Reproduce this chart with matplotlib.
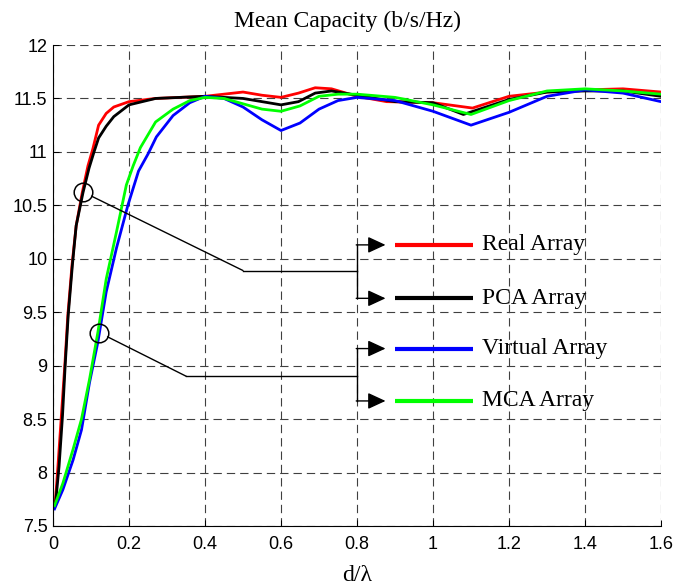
import numpy as np
import matplotlib.pyplot as plt
from matplotlib.ticker import FuncFormatter

# ---- data: mean capacity vs element spacing d/lambda ----
x_real = [0.006, 0.013, 0.022, 0.031, 0.039, 0.050, 0.061, 0.077, 0.092, 0.105,
          0.120, 0.140, 0.160, 0.200, 0.270, 0.400, 0.500, 0.550, 0.600, 0.646,
          0.690, 0.733, 0.800, 0.878, 1.000, 1.104, 1.200, 1.300, 1.400, 1.500, 1.600]
y_real = [7.72, 8.06, 8.53, 9.00, 9.47, 9.94, 10.31, 10.62, 10.87, 11.03,
          11.25, 11.36, 11.42, 11.47, 11.50, 11.52, 11.56, 11.53, 11.51, 11.55,
          11.60, 11.59, 11.52, 11.47, 11.46, 11.41, 11.52, 11.56, 11.58, 11.59, 11.56]

x_pca = [0.007, 0.016, 0.025, 0.032, 0.040, 0.051, 0.061, 0.079, 0.095, 0.108,
         0.120, 0.140, 0.160, 0.200, 0.270, 0.400, 0.500, 0.550, 0.600, 0.646,
         0.690, 0.733, 0.800, 0.900, 1.000, 1.080, 1.200, 1.300, 1.400, 1.500, 1.600]
y_pca = [7.72, 8.06, 8.53, 9.00, 9.47, 9.94, 10.31, 10.62, 10.85, 11.00,
         11.13, 11.24, 11.33, 11.44, 11.50, 11.52, 11.50, 11.47, 11.44, 11.47,
         11.55, 11.57, 11.53, 11.47, 11.46, 11.35, 11.49, 11.56, 11.57, 11.57, 11.52]

x_virtual = [0.004, 0.026, 0.053, 0.075, 0.096, 0.118, 0.140, 0.167, 0.197, 0.225,
             0.250, 0.272, 0.316, 0.360, 0.400, 0.450, 0.500, 0.550, 0.600, 0.650,
             0.700, 0.750, 0.800, 0.900, 1.000, 1.100, 1.200, 1.300, 1.400, 1.500, 1.600]
y_virtual = [7.66, 7.84, 8.12, 8.40, 8.84, 9.22, 9.69, 10.10, 10.50, 10.82,
             10.98, 11.14, 11.34, 11.46, 11.52, 11.50, 11.42, 11.30, 11.20, 11.27,
             11.40, 11.48, 11.51, 11.48, 11.38, 11.25, 11.37, 11.52, 11.58, 11.55, 11.47]

x_mca = [0.004, 0.026, 0.053, 0.075, 0.096, 0.118, 0.140, 0.167, 0.193, 0.211,
         0.230, 0.270, 0.316, 0.360, 0.400, 0.450, 0.500, 0.550, 0.600, 0.650,
         0.700, 0.750, 0.800, 0.900, 1.000, 1.100, 1.200, 1.300, 1.400, 1.500, 1.600]
y_mca = [7.69, 7.90, 8.22, 8.50, 8.87, 9.31, 9.81, 10.25, 10.69, 10.87,
         11.04, 11.28, 11.40, 11.48, 11.51, 11.50, 11.45, 11.40, 11.38, 11.43,
         11.52, 11.54, 11.54, 11.51, 11.44, 11.35, 11.48, 11.57, 11.59, 11.57, 11.54]

names = ['Real Array', 'PCA Array', 'Virtual Array', 'MCA Array']
colors = ['#ff0000', '#000000', '#0000ff', '#00ff00']
series = [(x_real, y_real), (x_pca, y_pca), (x_virtual, y_virtual), (x_mca, y_mca)]

x_ticks = [0, 0.2, 0.4, 0.6, 0.8, 1.0, 1.2, 1.4, 1.6]
y_ticks = [7.5, 8, 8.5, 9, 9.5, 10, 10.5, 11, 11.5, 12]

# callout geometry (data units)
circles = [(0.079, 10.625), (0.121, 9.31)]
corners = [(0.50, 9.89), (0.351, 8.90)]
bracket_x = 0.80
arrow_end = 0.875
key_y = [10.13, 9.63, 9.16, 8.67]
key_x = (0.90, 1.105)
text_x = 1.129

serif = ['Liberation Serif', 'DejaVu Serif']
sans = ['Liberation Sans', 'DejaVu Sans']

fig = plt.figure(figsize=(6.8, 5.88), dpi=100)
ax = fig.add_axes([53/680, 62/588, 608/680, 481/588])

for (xs, ys), c in zip(series, colors):
    ax.plot(xs, ys, color=c, lw=2.0, solid_joinstyle='round')

# circles on the curves and connector lines to the bracket
for (cx, cy), (kx, ky) in zip(circles, corners):
    ax.plot(cx, cy, 'o', ms=13.4, mfc='none', mec='k', mew=1.1)
    ax.annotate('', xy=(kx, ky), xytext=(cx, cy),
                arrowprops=dict(arrowstyle='-', color='k', lw=1.0,
                                shrinkA=6.9, shrinkB=0))
    ax.plot([kx, bracket_x], [ky, ky], color='k', lw=1.0)

for i in range(2):
    y_top, y_bot = key_y[2*i], key_y[2*i + 1]
    ax.plot([bracket_x, bracket_x], [y_top, y_bot], color='k', lw=1.0)
    for yy in (y_top, y_bot):
        ax.annotate('', xy=(arrow_end, yy), xytext=(bracket_x - 0.002, yy),
                    arrowprops=dict(arrowstyle='-|>,head_length=1.08,head_width=0.5',
                                    mutation_scale=10, color='k', lw=1.0,
                                    shrinkA=0, shrinkB=0))

# legend keys drawn by hand next to the arrows
for yy, c, name in zip(key_y, colors, names):
    ax.plot(key_x, [yy, yy], color=c, lw=3.0, solid_capstyle='butt')
    ax.text(text_x, yy, name, family=serif, fontsize=17, va='center', ha='left')

ax.set_xlim(0, 1.6)
ax.set_ylim(7.5, 12)
ax.set_xticks(x_ticks)
ax.set_yticks(y_ticks)
fmt = FuncFormatter(lambda v, p: f'{v:g}')
ax.xaxis.set_major_formatter(fmt)
ax.yaxis.set_major_formatter(fmt)
for lab in ax.get_xticklabels() + ax.get_yticklabels():
    lab.set_family(sans)
    lab.set_fontsize(13)

ax.tick_params(direction='in', length=4, width=0.75, top=False, right=False)
ax.tick_params(axis='x', pad=7)
ax.tick_params(axis='y', pad=4)
ax.spines['top'].set_visible(False)
ax.spines['right'].set_visible(False)
for s in ('left', 'bottom'):
    ax.spines[s].set_linewidth(0.8)

ax.set_axisbelow(True)
ax.grid(True, color='0.25', lw=0.8, linestyle=(0, (7.5, 4.5)))

ax.set_title('Mean Capacity (b/s/Hz)', family=serif, fontsize=17, pad=13, x=0.484)
ax.set_xlabel('d/λ', family=serif, fontsize=17, labelpad=9)

fig.savefig('out.png', dpi=100)
